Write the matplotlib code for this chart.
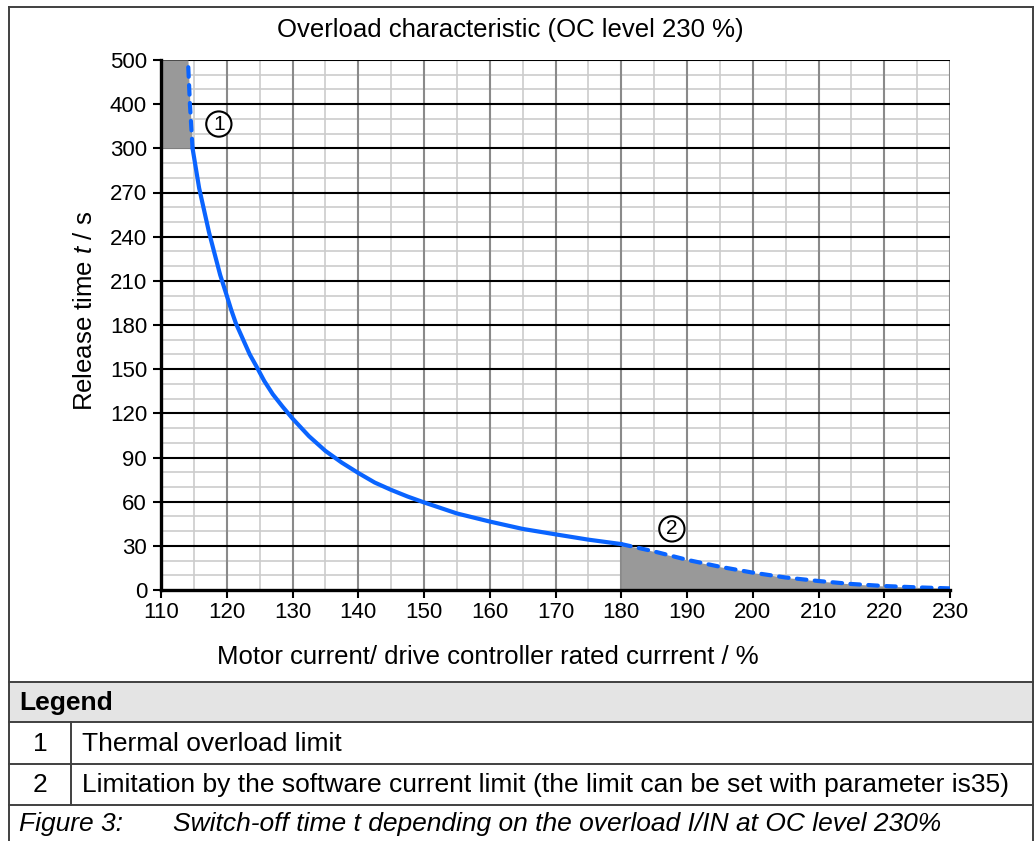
import numpy as np
import matplotlib
matplotlib.use("Agg")
import matplotlib.pyplot as plt
from matplotlib.lines import Line2D
from matplotlib.patches import Rectangle
from matplotlib.ticker import FixedLocator

plt.rcParams['font.family'] = ['Liberation Sans', 'DejaVu Sans']
plt.rcParams['mathtext.fontset'] = 'custom'
plt.rcParams['mathtext.rm'] = 'Liberation Sans'
plt.rcParams['mathtext.it'] = 'Liberation Sans:italic'

# ---- data ----
title = "Overload characteristic (OC level 230 %)"
x_label = "Motor current/ drive controller rated currrent / %"
y_label = "Release time $t$ / s"
x_ticks = [110, 120, 130, 140, 150, 160, 170, 180, 190, 200, 210, 220, 230]
y_ticks = [0, 30, 60, 90, 120, 150, 180, 210, 240, 270, 300, 400, 500]

thermal_I = [114.8, 115.8, 116.5, 117.3, 118.0, 119.0, 120.0, 120.7, 121.4, 122.5, 123.5,
             124.5, 125.7, 127.0, 128.5, 130.0, 132.5, 135.0, 137.5, 140.0, 142.5, 145.0,
             147.5, 150.0, 155.0, 160.0, 165.0, 170.0, 175.0, 180.0]
thermal_t = [300, 273, 259, 243, 231, 214, 200, 190, 181, 170, 160,
             152, 142, 133, 124.5, 116.5, 104.5, 94.5, 86.5, 79.5, 73, 68,
             63.5, 59.5, 52, 46.5, 41.5, 37.8, 34.2, 31.2]

limit1_I = [114.8, 114.6, 114.4, 114.25, 114.1]
limit1_t = [300, 350, 400, 450, 500]

limit2_I = [180, 185, 190, 195, 200, 205, 210, 215, 220, 225, 230]
limit2_t = [31.2, 26.2, 20.5, 15.8, 11.8, 8.5, 6.1, 4.1, 2.7, 1.8, 1.1]

legend_rows = [("1", "Thermal overload limit"),
               ("2", "Limitation by the software current limit (the limit can be set with parameter is35)")]
caption_num = "Figure 3:"
caption_text = "Switch-off time t depending on the overload I/IN at OC level 230%"

# ---- figure ----
W, H = 1035, 841
fig = plt.figure(figsize=(W / 100, H / 100), dpi=100)

def fx(p):
    return p / W

def fy(p):
    return 1 - p / H

ax = fig.add_axes([fx(161), fy(590), fx(950) - fx(161), fy(60) - fy(590)])

def fwd(y):
    y = np.asarray(y, dtype=float)
    return np.where(y <= 300, y / 30.0, 10 + (y - 300) / 100.0)

def inv(v):
    v = np.asarray(v, dtype=float)
    return np.where(v <= 10, v * 30.0, 300 + (v - 10) * 100.0)

ax.set_yscale('function', functions=(fwd, inv))
ax.set_xlim(110, 230)
ax.set_ylim(0, 500)

blue = '#0a64ff'
fillc = '#999999'

ax.fill_betweenx(limit1_t, 110, limit1_I, color=fillc, lw=0, zorder=2)
ax.fill_between(limit2_I, 0, limit2_t, color=fillc, lw=0, zorder=2)

ax.plot(thermal_I, thermal_t, color=blue, lw=3, zorder=4,
        solid_joinstyle='round', solid_capstyle='round')
dash = (0, (2.3, 2.0))
ax.plot(limit1_I, limit1_t, color=blue, lw=3, ls=dash, dash_capstyle='round', zorder=4)
ax.plot(limit2_I, limit2_t, color=blue, lw=3, ls=dash, dash_capstyle='round', zorder=4)

# grid
ax.xaxis.set_major_locator(FixedLocator(x_ticks))
ax.yaxis.set_major_locator(FixedLocator(y_ticks))
x_minor = list(np.arange(115, 230, 10))
y_minor = [v for v in range(10, 300, 10) if v % 30 != 0] + [333.33, 366.67, 433.33, 466.67]
ax.xaxis.set_minor_locator(FixedLocator(x_minor))
ax.yaxis.set_minor_locator(FixedLocator(y_minor))
ax.set_xticklabels([str(v) for v in x_ticks])
ax.set_yticklabels([str(v) for v in y_ticks])

for v in x_minor:
    ax.axvline(v, color='#cccccc', lw=1.2, zorder=1)
for v in y_minor:
    ax.axhline(v, color='#cccccc', lw=1.2, zorder=1)
for v in x_ticks[1:]:
    ax.axvline(v, color='#8a8a8a', lw=1.5, zorder=1.5)
for v in y_ticks[1:]:
    ax.axhline(v, color='black', lw=1.5, zorder=1.6)

ax.tick_params(axis='both', which='major', direction='out', length=6, width=1.5,
               labelsize=16, colors='black')
ax.tick_params(axis='both', which='minor', length=0)
ax.tick_params(axis='x', pad=3)
ax.tick_params(axis='y', pad=4)
for s in ['top', 'right']:
    ax.spines[s].set_visible(False)
ax.spines['left'].set_linewidth(2.4)
ax.spines['bottom'].set_linewidth(2.4)
ax.spines['left'].set_zorder(5)
ax.spines['bottom'].set_zorder(5)

# circled markers
ax.text(118.8, 355, "1", fontsize=15, ha='center', va='center', zorder=6,
        bbox=dict(boxstyle='circle,pad=0.15', fc='white', ec='black', lw=1.5))
ax.text(187.7, 41.5, "2", fontsize=15, ha='center', va='center', zorder=6,
        bbox=dict(boxstyle='circle,pad=0.15', fc='white', ec='black', lw=1.5))

# titles
fig.text(fx(510), fy(30), title, fontsize=18.5, ha='center', va='center')
fig.text(fx(488), fy(657), x_label, fontsize=18.5, ha='center', va='center')
fig.text(fx(85), fy(311), y_label, fontsize=18.5, ha='center', va='center', rotation=90)

# frame and legend table
lc = '#404040'
def hline(y, x0=9, x1=1033, lw=1.4):
    fig.add_artist(Line2D([fx(x0), fx(x1)], [fy(y), fy(y)], color=lc, lw=lw))

def vline(x, y0, y1, lw=1.4):
    fig.add_artist(Line2D([fx(x), fx(x)], [fy(y0), fy(y1)], color=lc, lw=lw))

fig.add_artist(Rectangle((fx(9), fy(722)), fx(1033) - fx(9), fy(682) - fy(722),
                         transform=fig.transFigure, fc='#e4e4e4', ec='none'))
hline(7)
hline(682)
hline(722)
hline(764)
hline(805)
vline(9, 7, 841)
vline(1033, 7, 841)
vline(71, 722, 805)

fs_tab = 19
fig.text(fx(19), fy(703), "Legend", fontsize=fs_tab, fontweight='bold', ha='left', va='center')
for i, (num, txt) in enumerate(legend_rows):
    yc = 744 + i * 41
    fig.text(fx(40), fy(yc), num, fontsize=fs_tab, ha='center', va='center')
    fig.text(fx(82), fy(yc), txt, fontsize=fs_tab, ha='left', va='center')
fig.text(fx(19), fy(824), caption_num, fontsize=fs_tab, style='italic', ha='left', va='center')
fig.text(fx(173), fy(824), caption_text, fontsize=fs_tab, style='italic', ha='left', va='center')

fig.savefig("out.png", dpi=100)
